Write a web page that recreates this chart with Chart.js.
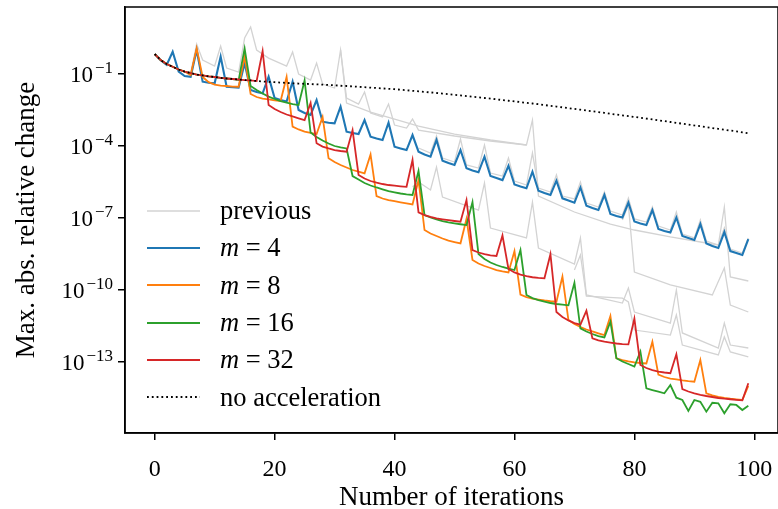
<!DOCTYPE html>
<html>
<head>
<meta charset="utf-8">
<script src="https://cdn.jsdelivr.net/npm/chart.js@4.4.1/dist/chart.umd.min.js"></script>
<style>
  html, body { margin: 0; padding: 0; background: #fff; }
  #wrap { position: relative; width: 778px; height: 509px; }
  #wrap canvas { position: absolute; left: 0; top: 0; }
  #legend {
    position: absolute; left: 147px; top: 192px;
    font-family: 'Liberation Serif', serif; font-size: 26.5px; color: #000;
  }
  #legend .row { height: 37.3px; display: flex; align-items: center; white-space: nowrap; }
  #legend svg { margin-right: 20px; flex: none; }
</style>
</head>
<body>
<div id="wrap">
  <canvas id="chart" width="778" height="509"></canvas>
  <div id="legend"></div>
</div>
<script>
// iteration index on the x axis
const iterations = Array.from({ length: 100 }, (_, i) => i);
const xTicks = [0, 20, 40, 60, 80, 100];
const yTickValues = [1e-1, 1e-4, 1e-7, 1e-10, 1e-13];
const yTickExps = ['−1', '−4', '−7', '−10', '−13'];

const noAccel = [
  6.8e-1, 3.8e-1, 2.6e-1, 2.0e-1, 1.54e-1, 1.27e-1, 1.1e-1, 9.4e-2, 8.7e-2, 8.0e-2,
  7.5e-2, 6.9e-2, 6.5e-2, 6.2e-2, 5.9e-2, 5.6e-2, 5.4e-2, 5.1e-2, 4.9e-2, 4.7e-2,
  4.55e-2, 4.4e-2, 4.25e-2, 4.1e-2, 4.0e-2, 3.9e-2, 3.8e-2, 3.7e-2, 3.6e-2, 3.5e-2,
  3.4e-2, 3.25e-2, 3.16e-2, 3.05e-2, 2.93e-2, 2.82e-2, 2.71e-2, 2.61e-2, 2.51e-2, 2.42e-2,
  2.33e-2, 2.22e-2, 2.11e-2, 2.0e-2, 1.9e-2, 1.8e-2, 1.71e-2, 1.62e-2, 1.53e-2, 1.44e-2,
  1.36e-2, 1.28e-2, 1.2e-2, 1.13e-2, 1.07e-2, 1.0e-2, 9.45e-3, 8.8e-3, 8.25e-3, 7.7e-3,
  7.2e-3, 6.75e-3, 6.3e-3, 5.9e-3, 5.5e-3, 5.1e-3, 4.7e-3, 4.4e-3, 4.1e-3, 3.8e-3,
  3.5e-3, 3.25e-3, 3.0e-3, 2.8e-3, 2.6e-3, 2.4e-3, 2.2e-3, 2.05e-3, 1.9e-3, 1.76e-3,
  1.63e-3, 1.51e-3, 1.39e-3, 1.28e-3, 1.18e-3, 1.09e-3, 1.0e-3, 9.2e-4, 8.5e-4, 7.9e-4,
  7.2e-4, 6.7e-4, 6.1e-4, 5.6e-4, 5.2e-4, 4.8e-4, 4.4e-4, 4.1e-4, 3.7e-4, 3.4e-4
];

const m4 = [
  6.8e-1, 3.8e-1, 2.4e-1, 8.5e-1, 1.25e-1, 8.25e-2, 7.7e-2, 1.0e0, 4.8e-2, 4.35e-2,
  4.1e-2, 5.3e-1, 2.95e-2, 2.8e-2, 2.7e-2, 2.8e-1, 2.15e-2, 1.78e-2, 1.57e-2, 7.7e-2,
  1.0e-2, 8.25e-3, 7.15e-3, 4.8e-2, 3.16e-3, 2.37e-3, 1.96e-3, 8.25e-3, 1.03e-3, 9.3e-4,
  8.8e-4, 4.35e-3, 3.95e-4, 3.48e-4, 3.16e-4, 1.21e-3, 2.45e-4, 2.05e-4, 1.78e-4, 9.3e-4,
  9.3e-5, 7.9e-5, 6.8e-5, 2.87e-4, 5.8e-5, 4.4e-5, 3.6e-5, 1.78e-4, 2.45e-5, 1.96e-5,
  1.62e-5, 6.8e-5, 1.18e-5, 9.5e-6, 8.0e-6, 3.6e-5, 5.6e-6, 4.6e-6, 3.8e-6, 1.5e-5,
  2.5e-6, 2.05e-6, 1.73e-6, 8.5e-6, 1.37e-6, 1.1e-6, 9.1e-7, 3.6e-6, 6.6e-7, 5.4e-7,
  4.35e-7, 1.87e-6, 3.25e-7, 2.6e-7, 2.15e-7, 9.1e-7, 1.47e-7, 1.21e-7, 1.05e-7, 4.35e-7,
  7.15e-8, 5.9e-8, 5.1e-8, 2.15e-7, 3.48e-8, 2.87e-8, 2.5e-8, 1.05e-7, 1.78e-8, 1.47e-8,
  1.21e-8, 5.6e-8, 8.7e-9, 6.8e-9, 5.6e-9, 2.6e-8, 4.2e-9, 3.5e-9, 2.87e-9, 1.33e-8
];

const m8 = [
  6.8e-1, 3.8e-1, 2.6e-1, 2.0e-1, 1.54e-1, 1.27e-1, 9.1e-2, 1.18e0, 7.5e-2, 4.6e-2,
  3.65e-2, 3.3e-2, 3.16e-2, 3.0e-2, 2.95e-2, 5.3e-1, 1.47e-2, 1.1e-2, 9.5e-3, 8.7e-3,
  8.0e-3, 7.5e-3, 7.5e-2, 6.4e-4, 4.9e-4, 4.0e-4, 3.5e-4, 3.16e-4, 1.62e-3, 3.07e-5,
  2.15e-5, 1.62e-5, 1.27e-5, 1.0e-5, 8.5e-6, 7.3e-6, 4.4e-5, 8.25e-7, 6.5e-7, 5.6e-7,
  5.0e-7, 4.5e-7, 4.1e-7, 3.7e-7, 3.8e-6, 3.16e-8, 2.26e-8, 1.78e-8, 1.4e-8, 1.15e-8,
  1.0e-8, 8.8e-9, 9.1e-8, 1.78e-9, 1.27e-9, 1.0e-9, 8.25e-10, 6.8e-10, 6.0e-10, 5.4e-10,
  4.2e-9, 6.4e-11, 5.1e-11, 4.4e-11, 4.0e-11, 3.65e-11, 3.4e-11, 3.25e-11, 3.6e-10, 5.6e-12,
  3.8e-12, 2.87e-12, 2.26e-12, 1.87e-12, 1.57e-12, 1.33e-12, 8.25e-12, 1.43e-13, 1.21e-13, 1.07e-13,
  9.7e-14, 9.1e-14, 8.7e-14, 7.0e-13, 3.0e-14, 2.37e-14, 2.05e-14, 1.87e-14, 1.7e-14, 1.58e-14,
  1.51e-14, 1.21e-13, 4.95e-15, 4.1e-15, 3.55e-15, 3.2e-15, 2.95e-15, 2.77e-15, 2.61e-15, 1.0e-14
];

const m16 = [
  6.8e-1, 3.8e-1, 2.6e-1, 2.0e-1, 1.54e-1, 1.27e-1, 1.1e-1, 9.4e-2, 8.7e-2, 8.0e-2,
  7.5e-2, 6.9e-2, 6.5e-2, 6.2e-2, 5.6e-2, 1.15e0, 3.16e-2, 2.15e-2, 1.54e-2, 1.15e-2,
  9.1e-3, 7.5e-3, 6.5e-3, 5.6e-3, 5.1e-3, 5.4e-2, 3.65e-4, 2.37e-4, 1.7e-4, 1.27e-4,
  1.0e-4, 8.7e-5, 7.9e-5, 5.6e-6, 4.0e-6, 2.87e-6, 2.26e-6, 1.87e-6, 1.57e-6, 1.33e-6,
  1.18e-6, 1.05e-6, 9.7e-7, 9.1e-7, 9.1e-6, 1.33e-7, 1.05e-7, 8.7e-8, 7.5e-8, 6.6e-8,
  6.0e-8, 5.5e-8, 5.1e-8, 4.6e-7, 3.16e-9, 1.96e-9, 1.4e-9, 1.1e-9, 9.1e-10, 7.7e-10,
  6.8e-10, 4.6e-9, 6.2e-11, 4.6e-11, 3.8e-11, 3.25e-11, 2.87e-11, 2.61e-11, 2.45e-11, 2.3e-11,
  2.0e-10, 2.53e-12, 1.87e-12, 1.47e-12, 1.21e-12, 1.05e-12, 4.8e-12, 1.43e-13, 1.05e-13, 8.25e-14,
  6.4e-14, 2.7e-13, 8.0e-15, 6.8e-15, 5.8e-15, 4.95e-15, 1.1e-14, 3.25e-15, 2.61e-15, 9.1e-16,
  2.61e-15, 2.2e-15, 8.5e-16, 2.0e-15, 1.9e-15, 7.3e-16, 1.73e-15, 1.62e-15, 1.0e-15, 1.5e-15
];

const m32 = [
  6.8e-1, 3.8e-1, 2.6e-1, 2.0e-1, 1.54e-1, 1.27e-1, 1.1e-1, 9.4e-2, 8.7e-2, 8.0e-2,
  7.5e-2, 6.9e-2, 6.5e-2, 6.2e-2, 5.9e-2, 5.6e-2, 5.4e-2, 5.1e-2, 9.1e-1, 5.1e-3,
  3.48e-3, 2.61e-3, 2.05e-3, 1.7e-3, 1.43e-3, 1.21e-3, 6.2e-3, 1.3e-4, 9.5e-5, 7.9e-5,
  6.8e-5, 6.2e-5, 5.8e-5, 4.6e-4, 6.2e-6, 4.4e-6, 3.48e-6, 2.95e-6, 2.61e-6, 2.37e-6,
  2.22e-6, 2.1e-6, 2.0e-6, 2.61e-5, 1.73e-7, 1.33e-7, 1.12e-7, 9.6e-8, 8.8e-8, 8.1e-8,
  7.5e-8, 7.0e-8, 5.6e-7, 4.6e-9, 3.65e-9, 3.1e-9, 2.8e-9, 2.61e-9, 1.87e-8, 7.5e-10,
  5.4e-10, 4.35e-10, 3.75e-10, 3.4e-10, 3.2e-10, 3.07e-10, 3.1e-9, 1.21e-11, 7.5e-12, 5.4e-12,
  4.2e-12, 3.6e-12, 1.37e-11, 9.7e-13, 8.0e-13, 7.0e-13, 6.4e-13, 5.9e-13, 5.6e-13, 5.4e-13,
  6.4e-12, 7.5e-14, 5.6e-14, 4.6e-14, 4.0e-14, 3.65e-14, 3.4e-14, 2.1e-13, 7.4e-15, 5.9e-15,
  4.95e-15, 4.3e-15, 3.83e-15, 3.48e-15, 3.16e-15, 2.95e-15, 2.8e-15, 2.66e-15, 2.53e-15, 1.3e-14
];

// earlier runs (grey), [iteration, value] at the corners of each curve
const prevA = [
  [6, 1.1e-1], [7, 1.78e0], [8, 3.83e-1], [10, 2.15e-1], [11, 1.47e0], [12, 1.78e-1], [14, 1.21e-1],
  [15, 3.16e0], [16, 9.1e0], [17, 1.0e0], [19, 4.6e-1], [22, 2.15e-1], [23, 8.25e-1], [24, 1.0e-1],
  [26, 5.6e-2], [27, 2.87e-1], [28, 3.83e-2], [30, 2.61e-2], [31, 1.0e0], [32, 1.0e-2], [34, 5.6e-3],
  [35, 1.78e-2], [36, 2.37e-3], [38, 1.62e-3], [39, 5.6e-3], [40, 7.5e-4], [42, 5.6e-4], [43, 1.33e-3],
  [44, 4.6e-4], [50, 2.61e-4], [56, 1.62e-4], [62, 1.1e-4], [63, 1.21e-3], [64, 8.25e-7], [70, 1.78e-7],
  [76, 5.6e-8], [80, 3.16e-8], [86, 1.62e-8], [92, 9.1e-9], [94, 7.5e-9], [95, 2.87e-7], [96, 3.48e-10],
  [99, 2.37e-10]
];
const prevB = [
  [44, 8.25e-5], [46, 5.1e-5], [47, 2.61e-4], [48, 3.16e-5], [50, 2.15e-5], [51, 1.96e-4], [52, 1.62e-5],
  [54, 1.21e-5], [55, 1.1e-4], [56, 7.5e-6], [58, 5.6e-6], [59, 3.16e-5], [60, 3.48e-6], [62, 2.37e-6],
  [63, 5.1e-5], [64, 1.78e-6], [66, 1.21e-6], [67, 6.2e-6], [68, 8.25e-7], [70, 6.2e-7], [71, 3.16e-6],
  [72, 4.2e-7], [74, 2.87e-7], [75, 1.21e-6], [76, 1.96e-7], [78, 1.33e-7], [79, 6.8e-7], [80, 9.1e-8],
  [82, 6.8e-8], [83, 2.87e-7], [84, 4.6e-8], [86, 3.16e-8], [87, 1.78e-7], [88, 2.15e-8], [90, 1.47e-8],
  [91, 8.25e-8], [92, 1.1e-8], [94, 7.5e-9], [95, 3.83e-8], [96, 5.1e-9], [98, 3.48e-9], [99, 1.47e-8]
];
const prevC = [
  [43, 2.0e-6], [44, 3.16e-6], [46, 1.47e-6], [47, 1.33e-5], [48, 7.5e-7], [54, 2.15e-7], [55, 2.87e-6],
  [56, 3.83e-8], [62, 1.47e-8], [63, 4.6e-7], [64, 5.6e-9], [70, 1.21e-9], [71, 1.47e-8], [72, 6.2e-11],
  [78, 2.87e-11], [79, 1.21e-10], [80, 1.21e-11], [86, 4.2e-12], [87, 1.0e-10], [88, 1.62e-12],
  [94, 3.83e-13], [95, 4.2e-12], [96, 5.1e-13], [99, 3.83e-13]
];
const prevD = [
  [70, 6.8e-10], [71, 2.87e-9], [72, 5.6e-11], [78, 4.6e-11], [79, 3.16e-11], [80, 2.15e-12], [86, 1.33e-12],
  [87, 9.1e-12], [88, 5.1e-13], [94, 1.96e-13], [95, 1.1e-12], [96, 2.61e-13], [99, 1.62e-13]
];
const prevE = [
  [78, 8.25e-8], [79, 3.48e-7], [80, 5.6e-10], [86, 1.62e-10], [93, 6.2e-11], [95, 8.25e-10], [96, 2.37e-11],
  [99, 1.21e-11]
];
const prevF = [
  [31, 1.0e0], [32, 6.2e-3], [36, 2.61e-3], [40, 1.33e-3], [44, 6.8e-4], [50, 3.16e-4], [56, 1.78e-4],
  [62, 1.1e-4]
];

const GREY = '#d3d3d3';
const FONT = "'Liberation Serif', 'Times New Roman', serif";

const series = (vals) => vals.map((v, i) => ({ x: iterations[i], y: v }));
const pairs = (list) => list.map(([x, y]) => ({ x, y }));

const greyRuns = [prevA, prevB, prevC, prevD, prevE, prevF].map((run) => ({
  data: pairs(run), borderColor: GREY, borderWidth: 1.3, order: 10
}));

const datasets = [
  ...greyRuns,
  { label: 'm = 4', data: series(m4), borderColor: '#1f77b4', borderWidth: 2.1, order: 4 },
  { label: 'm = 8', data: series(m8), borderColor: '#ff7f0e', borderWidth: 1.8, order: 3 },
  { label: 'm = 16', data: series(m16), borderColor: '#2ca02c', borderWidth: 1.8, order: 2 },
  { label: 'm = 32', data: series(m32), borderColor: '#d62728', borderWidth: 1.8, order: 1 },
  { label: 'no acceleration', data: series(noAccel), borderColor: '#000', borderWidth: 1.8,
    borderDash: [1.8, 3], order: 0 }
];
datasets.forEach((d) => { d.pointRadius = 0; d.tension = 0; d.fill = false; });

// black box round the plot area, like matplotlib spines
const frame = {
  id: 'frame',
  afterDatasetsDraw(chart) {
    const { ctx, chartArea: a } = chart;
    ctx.save();
    ctx.strokeStyle = '#000';
    ctx.lineWidth = 1.5;
    ctx.strokeRect(a.left, a.top, a.right - a.left, a.bottom - a.top);
    ctx.restore();
  }
};

// y tick labels as 10 with a raised exponent
const powerLabels = {
  id: 'powerLabels',
  afterDraw(chart) {
    const { ctx } = chart;
    const y = chart.scales.y;
    const right = y.right - 12;
    ctx.save();
    ctx.fillStyle = '#000';
    ctx.textAlign = 'right';
    ctx.textBaseline = 'alphabetic';
    yTickValues.forEach((v, i) => {
      const py = y.getPixelForValue(v);
      ctx.font = '17px ' + FONT;
      const w = ctx.measureText(yTickExps[i]).width;
      ctx.fillText(yTickExps[i], right, py - 1);
      ctx.font = '23px ' + FONT;
      ctx.fillText('10', right - w - 2, py + 8);
    });
    ctx.restore();
  }
};

new Chart(document.getElementById('chart').getContext('2d'), {
  type: 'line',
  data: { datasets },
  plugins: [frame, powerLabels],
  options: {
    responsive: false,
    animation: false,
    events: [],
    layout: { padding: { top: 7, right: 0, bottom: 0, left: 0 } },
    plugins: { legend: { display: false }, tooltip: { enabled: false } },
    scales: {
      x: {
        type: 'linear',
        min: -4.95,
        max: 103.95,
        bounds: 'data',
        afterBuildTicks: (s) => { s.ticks = xTicks.map((v) => ({ value: v })); },
        afterFit: (s) => { s.height = 76; s.paddingLeft = 0; s.paddingRight = 0; },
        grid: { drawOnChartArea: false, drawTicks: true, tickLength: 7, color: '#000', lineWidth: 1.5 },
        border: { display: true, color: '#000', width: 1.5 },
        ticks: { color: '#000', font: { family: FONT, size: 24 }, padding: 15, maxRotation: 0, autoSkip: false },
        title: {
          display: true, text: 'Number of iterations', color: '#000',
          font: { family: FONT, size: 27, lineHeight: 0.8 }, padding: { top: 0, bottom: 0 }
        }
      },
      y: {
        type: 'logarithmic',
        min: 1.1e-16,
        max: 62,
        bounds: 'data',
        afterBuildTicks: (s) => { s.ticks = yTickValues.map((v) => ({ value: v })); },
        afterFit: (s) => { s.width = 125; s.paddingTop = 0; s.paddingBottom = 0; },
        grid: { drawOnChartArea: false, drawTicks: true, tickLength: 7, color: '#000', lineWidth: 1.5 },
        border: { display: true, color: '#000', width: 1.5 },
        ticks: { display: false },
        title: {
          display: true, text: 'Max. abs. relative change', color: '#000',
          font: { family: FONT, size: 27, lineHeight: 1 }, padding: { top: 13, bottom: 0 }
        }
      }
    }
  }
});

// legend drawn as html over the plot
const legendItems = [
  { text: 'previous', color: GREY, width: 1.5, dash: null },
  { text: '<i>m</i> = 4', color: '#1f77b4', width: 2, dash: null },
  { text: '<i>m</i> = 8', color: '#ff7f0e', width: 1.8, dash: null },
  { text: '<i>m</i> = 16', color: '#2ca02c', width: 1.8, dash: null },
  { text: '<i>m</i> = 32', color: '#d62728', width: 1.8, dash: null },
  { text: 'no acceleration', color: '#000', width: 1.8, dash: '1.8 3' }
];
document.getElementById('legend').innerHTML = legendItems.map((it) =>
  '<div class="row"><svg width="53" height="6"><line x1="0" y1="3" x2="53" y2="3" stroke="' + it.color +
  '" stroke-width="' + it.width + '"' + (it.dash ? ' stroke-dasharray="' + it.dash + '"' : '') +
  '/></svg><span>' + it.text + '</span></div>'
).join('');
</script>
</body>
</html>
